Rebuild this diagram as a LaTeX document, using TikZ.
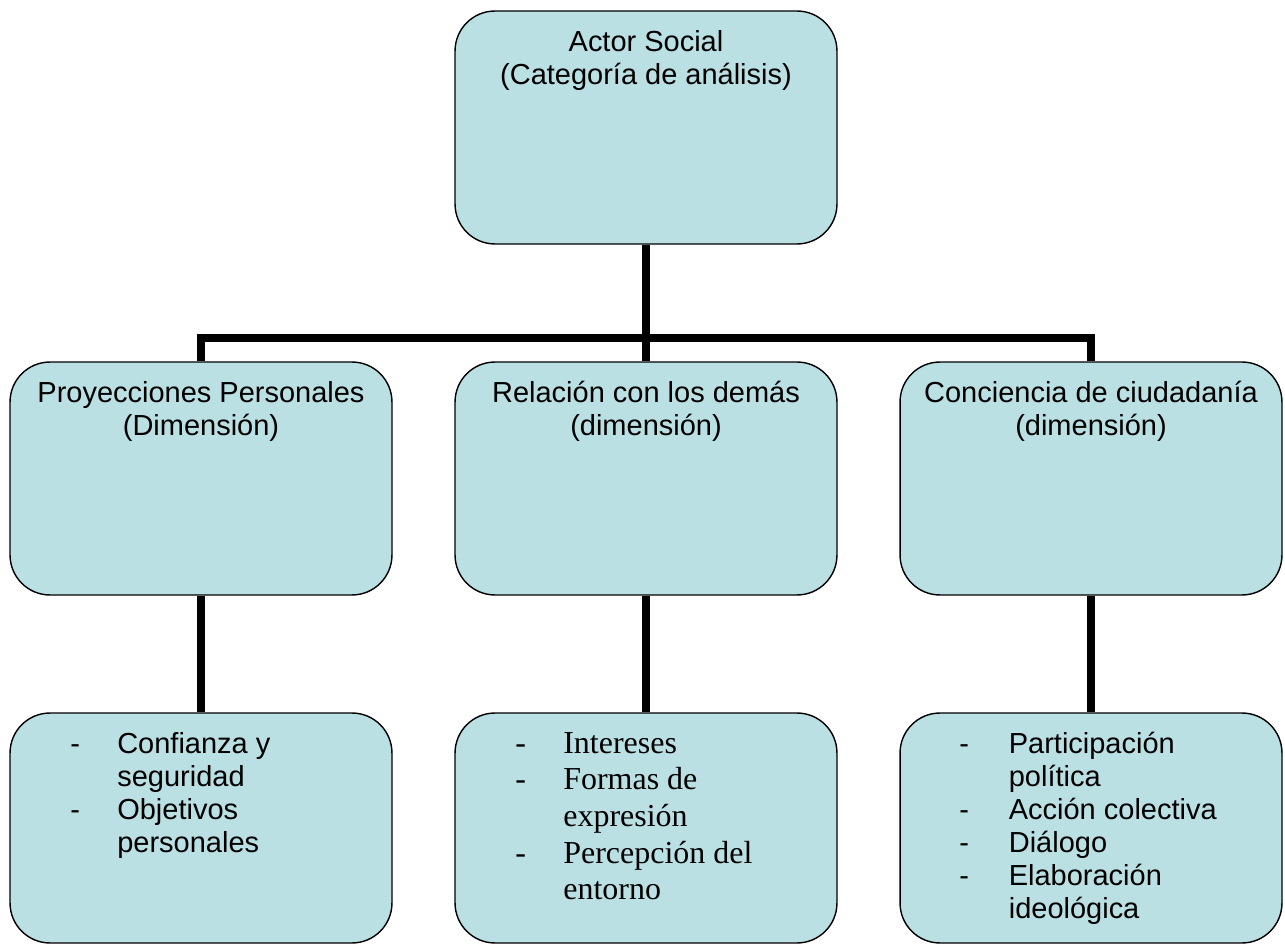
\documentclass[tikz,border=0pt]{standalone}
\usepackage{fontspec}
\setmainfont{Liberation Sans}
\newfontfamily\serifbox{Liberation Serif}
\usepackage{tikz}
\usepackage{xcolor}
\definecolor{boxfill}{RGB}{186,224,228}
\newcommand{\sansbox}{\fontsize{16.5pt}{18.8pt}\selectfont}
\newcommand{\romanbox}{\serifbox\fontsize{18.2pt}{20.9pt}\selectfont}

\begin{document}
\begin{tikzpicture}[x=0.02cm, y=-0.02cm,
        box/.style={draw=black, line width=0.8pt, fill=boxfill, rounded corners=0.8cm, minimum width=7.64cm, minimum height=4.66cm, inner sep=0pt},
        title/.style={anchor=north, align=center, inner sep=0pt, font=\sansbox},
        items/.style={anchor=north west, inner sep=0pt, font=\sansbox},
        conn/.style={line width=4pt}]
            \useasboundingbox (0,0) rectangle (1285,945);

            \node[box] (actor) at (646, 127.5) {};
            \node[box] (proy) at (201, 478.5) {};
            \node[box] (rel) at (646, 478.5) {};
            \node[box] (conc) at (1091, 478.5) {};
            \node[box, minimum height=4.6cm] (conf) at (201, 828) {};
            \node[box, minimum height=4.6cm] (inter) at (646, 828) {};
            \node[box, minimum height=4.6cm] (parti) at (1091, 828) {};

            \node[title] (actor-t) at (646, 30) {Actor Social\\(Categoría de análisis)};
            \node[title] (proy-t) at (201, 381) {Proyecciones Personales\\(Dimensión)};
            \node[title] (rel-t) at (646, 381) {Relación con los demás\\(dimensión)};
            \node[title] (conc-t) at (1091, 381) {Conciencia de ciudadanía\\(dimensión)};

            \node[items] (conf-t) at (70, 730) {\begin{tabular}{@{}p{0.94cm}@{}l@{}}
                - & Confianza y\\
                  & seguridad\\
                - & Objetivos\\
                  & personales
            \end{tabular}};
            \node[items, font=\romanbox] (inter-t) at (515, 727) {\begin{tabular}{@{}p{0.96cm}@{}l@{}}
                - & Intereses\\
                - & Formas de\\
                  & expresión\\
                - & Percepción del\\
                  & entorno
            \end{tabular}};
            \node[items] (parti-t) at (959, 730) {\begin{tabular}{@{}p{0.99cm}@{}l@{}}
                - & Participación\\
                  & política\\
                - & Acción colectiva\\
                - & Diálogo\\
                - & Elaboración\\
                  & ideológica
            \end{tabular}};

            \coordinate (hub) at (646, 338);
            \draw[conn] (actor) -- (rel);
            \draw[conn] (proy) |- (hub) -| (conc);
            \draw[conn] (proy) -- (conf);
            \draw[conn] (rel) -- (inter);
            \draw[conn] (conc) -- (parti);
        \end{tikzpicture}
\end{document}
